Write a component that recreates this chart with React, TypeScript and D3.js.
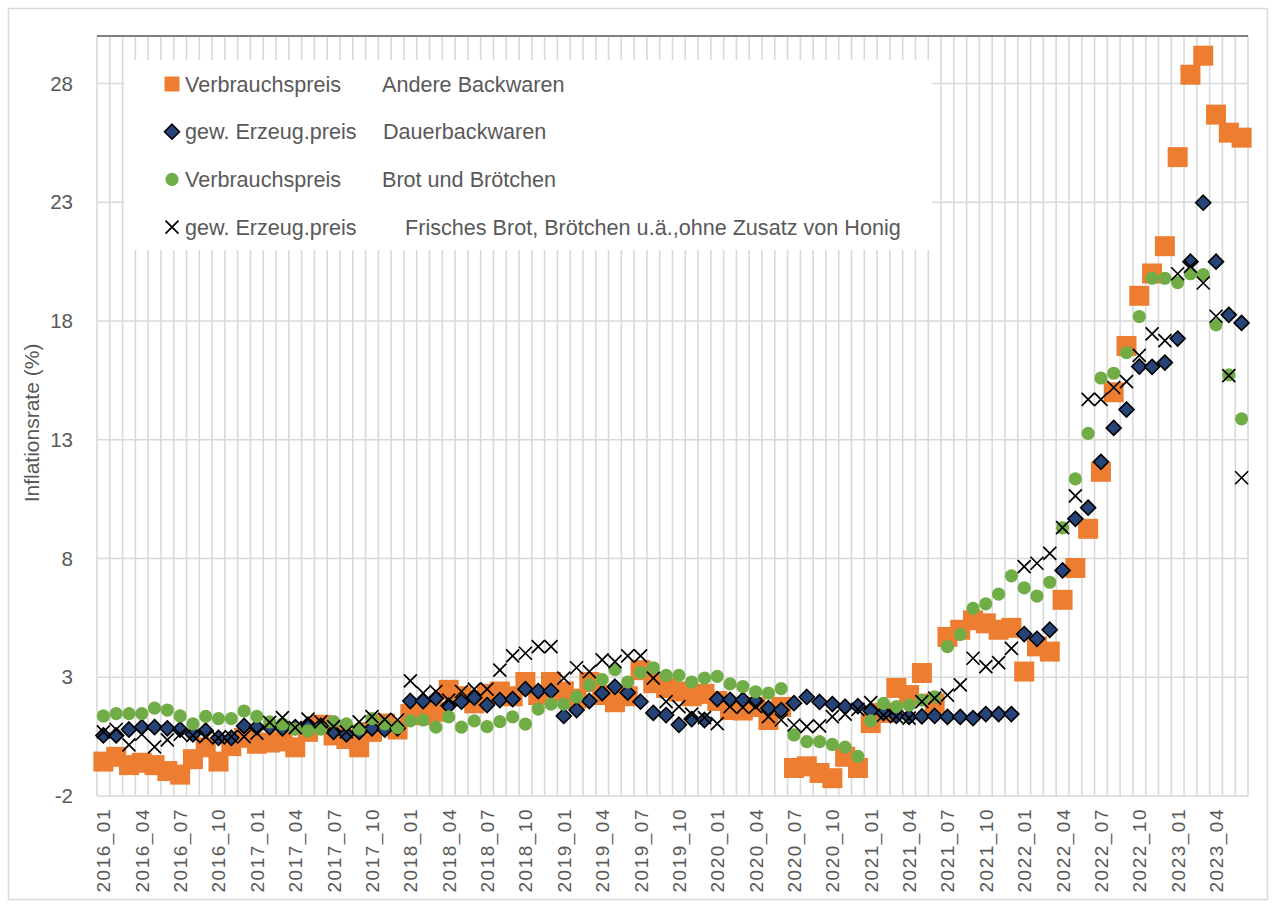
import React from "react";
import * as d3 from "d3";

// monthly categories 2016_01 .. 2023_06
const firstYear = 2016;
const monthCount = 90;
const months: string[] = d3.range(monthCount).map(
  (i) => `${firstYear + Math.floor(i / 12)}_${String((i % 12) + 1).padStart(2, "0")}`
);

const yTicks = [-2, 3, 8, 13, 18, 23, 28];

// Verbrauchspreis – Andere Backwaren
const andereBackwaren = [
  -0.55, -0.35, -0.7, -0.6, -0.7, -0.95, -1.1, -0.45, 0.05, -0.55, 0.1, 0.45,
  0.2, 0.25, 0.3, 0.05, 0.7, 1.0, 0.55, 0.4, 0.05, 0.7, 1.05, 0.8,
  1.45, 1.4, 1.55, 2.47, 2.2, 1.9, 2.3, 2.4, 2.2, 2.8, 2.25, 2.8,
  2.4, 2.1, 2.8, 2.25, 1.95, 2.2, 3.3, 2.75, 2.55, 2.4, 2.2, 2.3,
  2.0, 1.62, 1.6, 1.75, 1.2, 1.75, -0.82, -0.75, -1.03, -1.25, -0.35, -0.82,
  1.07, 1.5, 2.55, 2.25, 3.18, 1.9, 4.7, 5.0, 5.4, 5.27, 5.0, 5.08,
  3.24, 4.3, 4.08, 6.26, 7.6, 9.25, 11.65, 15.0, 16.95, 19.06, 20.0, 21.15,
  24.9, 28.37, 29.17, 26.69, 25.93, 25.72,
];

// gew. Erzeug.preis – Dauerbackwaren
const dauerBackwaren = [
  0.55, 0.55, 0.8, 0.9, 0.9, 0.85, 0.8, 0.6, 0.75, 0.45, 0.45, 0.95,
  0.9, 0.9, 0.85, 0.9, 1.0, 0.95, 0.7, 0.6, 0.7, 0.85, 0.8, 0.85,
  2.0, 2.0, 2.12, 1.8, 1.97, 2.14, 1.83, 2.04, 2.08, 2.5, 2.42, 2.42,
  1.37, 1.62, 2.0, 2.33, 2.6, 2.35, 1.97, 1.5, 1.41, 1.0, 1.24, 1.2,
  2.08, 2.05, 2.05, 2.0, 1.7, 1.62, 1.91, 2.17, 1.96, 1.87, 1.76, 1.78,
  1.58, 1.5, 1.37, 1.33, 1.35, 1.37, 1.33, 1.33, 1.28, 1.45, 1.45, 1.45,
  4.82, 4.62, 5.0, 7.5, 9.67, 10.14, 12.07, 13.5, 14.27, 16.08, 16.07, 16.25,
  17.26, 20.5, 22.98, 20.5, 18.26, 17.92,
];

// Verbrauchspreis – Brot und Brötchen
const brotBroetchen = [
  1.37, 1.47, 1.47, 1.47, 1.7, 1.62, 1.37, 1.04, 1.35, 1.26, 1.26, 1.58,
  1.35, 1.12, 1.03, 0.82, 0.74, 0.82, 1.13, 1.04, 0.83, 1.26, 1.04, 0.88,
  1.16, 1.2, 0.9, 1.33, 0.9, 1.16, 0.92, 1.13, 1.33, 1.03, 1.66, 1.87,
  1.87, 2.17, 2.68, 2.9, 3.32, 2.8, 3.2, 3.4, 3.08, 3.08, 2.8, 2.96,
  3.04, 2.72, 2.61, 2.39, 2.33, 2.52, 0.57, 0.29, 0.29, 0.17, 0.06, -0.33,
  1.16, 1.9, 1.76, 1.83, 2.04, 2.18, 4.29, 4.8, 5.9, 6.09, 6.5, 7.27,
  6.76, 6.42, 7.0, 9.29, 11.35, 13.27, 15.6, 15.8, 16.67, 18.19, 19.8, 19.8,
  19.62, 19.99, 19.95, 17.84, 15.73, 13.88,
];

// gew. Erzeug.preis – Frisches Brot, Brötchen u.ä., ohne Zusatz von Honig
const frischesBrot = [
  0.7, 0.8, 0.15, 0.6, 0.07, 0.36, 0.6, 0.55, 0.5, 0.45, 0.5, 0.5,
  0.65, 1.1, 1.3, 0.88, 1.24, 1.12, 0.92, 0.7, 1.12, 1.34, 1.23, 1.2,
  2.85, 2.33, 2.4, 2.04, 2.4, 2.5, 2.5, 3.3, 3.9, 4.01, 4.29, 4.29,
  2.96, 3.4, 3.24, 3.73, 3.66, 3.9, 3.9, 2.96, 1.97, 1.76, 1.45, 1.3,
  1.05, 1.76, 1.73, 1.76, 1.34, 1.2, 0.99, 0.92, 0.95, 1.34, 1.45, 1.65,
  1.93, 1.4, 1.34, 1.28, 1.97, 2.12, 2.25, 2.68, 3.8, 3.45, 3.62, 4.22,
  7.66, 7.8, 8.22, 9.3, 10.64, 14.7, 14.7, 15.2, 15.45, 16.55, 17.46, 17.17,
  19.99, 20.3, 19.6, 18.2, 15.7, 11.4,
];

const FONT = "'Liberation Sans', Arial, sans-serif";
const TEXT = "#595959";
const GRID = "#d9d9d9";
const ORANGE = "#ED7D31";
const BLUE = "#264478";
const GREEN = "#70AD47";

const W = 1275;
const H = 908;
const m = { left: 97, right: 1248, top: 36, bottom: 796 };

type Kind = "square" | "diamond" | "circle" | "cross";

const Marker = ({ kind, x, y, s }: { kind: Kind; x: number; y: number; s: number }) => {
  if (kind === "square")
    return <rect x={x - s} y={y - s} width={2 * s} height={2 * s} fill={ORANGE} />;
  if (kind === "diamond")
    return (
      <path
        d={`M${x},${y - s}L${x + s},${y}L${x},${y + s}L${x - s},${y}Z`}
        fill={BLUE}
        stroke="#000"
        strokeWidth={1.6}
      />
    );
  if (kind === "circle") return <circle cx={x} cy={y} r={s} fill={GREEN} />;
  return (
    <path
      d={`M${x - s},${y - s}L${x + s},${y + s}M${x - s},${y + s}L${x + s},${y - s}`}
      stroke="#000"
      strokeWidth={1.7}
      fill="none"
    />
  );
};

const series: { kind: Kind; values: number[]; size: number; legendSize: number; a: string; b: string; bx: number }[] = [
  { kind: "square", values: andereBackwaren, size: 10, legendSize: 7.5, a: "Verbrauchspreis", b: "Andere Backwaren", bx: 382 },
  { kind: "diamond", values: dauerBackwaren, size: 7.5, legendSize: 7.5, a: "gew. Erzeug.preis", b: "Dauerbackwaren", bx: 383 },
  { kind: "circle", values: brotBroetchen, size: 6.6, legendSize: 6.6, a: "Verbrauchspreis", b: "Brot und Brötchen", bx: 382 },
  { kind: "cross", values: frischesBrot, size: 6.5, legendSize: 6.5, a: "gew. Erzeug.preis", b: "Frisches Brot, Brötchen u.ä.,ohne Zusatz von Honig", bx: 405 },
];

export default function App() {
  const x = d3.scaleBand<string>().domain(months).range([m.left, m.right]).padding(0);
  const y = d3.scaleLinear().domain([-2, 30]).range([m.bottom, m.top]);
  const bw = x.bandwidth();
  const cx = (i: number) => (x(months[i]) as number) + bw / 2;

  const boundaries = months.map((mo) => x(mo) as number).concat([m.right]);

  return (
    <svg width={W} height={H} style={{ position: "absolute", left: 0, top: 0, background: "#fff" }} fontFamily={FONT}>
      <rect x={8.5} y={8.5} width={1259} height={891} fill="#fff" stroke={GRID} strokeWidth={1.5} />

      {/* vertical gridlines */}
      {boundaries.map((bx, i) => (
        <line key={"v" + i} x1={bx} x2={bx} y1={y(30)} y2={y(-2)} stroke={GRID} strokeWidth={1.6} />
      ))}
      {/* horizontal gridlines */}
      {yTicks.map((t) => (
        <line key={"h" + t} x1={m.left} x2={m.right} y1={y(t)} y2={y(t)} stroke={GRID} strokeWidth={1.6} />
      ))}
      <line x1={m.left} x2={m.right} y1={y(30)} y2={y(30)} stroke="#7f7f7f" strokeWidth={1.8} />

      {/* y tick labels */}
      {yTicks.map((t) => (
        <text key={"yt" + t} x={73} y={y(t)} dy="0.35em" textAnchor="end" fontSize={20.5} fill={TEXT}>
          {t}
        </text>
      ))}
      <text
        transform={`translate(39,423) rotate(-90)`}
        textAnchor="middle"
        fontSize={21}
        fill={TEXT}
      >
        Inflationsrate (%)
      </text>

      {/* x tick labels */}
      {months.map((mo, i) =>
        i % 3 === 0 ? (
          <text
            key={"xt" + mo}
            transform={`translate(${cx(i) + 7},${m.bottom + 12}) rotate(-90)`}
            textAnchor="end"
            fontSize={19}
            letterSpacing={1.5}
            fill={TEXT}
          >
            {mo}
          </text>
        ) : null
      )}

      {/* data */}
      {series.map((s) => (
        <g key={s.b}>
          {s.values.map((v, i) => (
            <Marker key={i} kind={s.kind} x={cx(i)} y={y(v)} s={s.size} />
          ))}
        </g>
      ))}

      {/* legend */}
      <rect x={124} y={60} width={808} height={190} fill="#fff" />
      {series.map((s, k) => {
        const ly = 84 + k * 47.7;
        return (
          <g key={"lg" + k}>
            <Marker kind={s.kind} x={172} y={ly} s={s.legendSize} />
            <text x={185} y={ly} dy="0.35em" fontSize={21.6} fill={TEXT}>
              {s.a}
            </text>
            <text x={s.bx} y={ly} dy="0.35em" fontSize={21.6} fill={TEXT}>
              {s.b}
            </text>
          </g>
        );
      })}
    </svg>
  );
}
